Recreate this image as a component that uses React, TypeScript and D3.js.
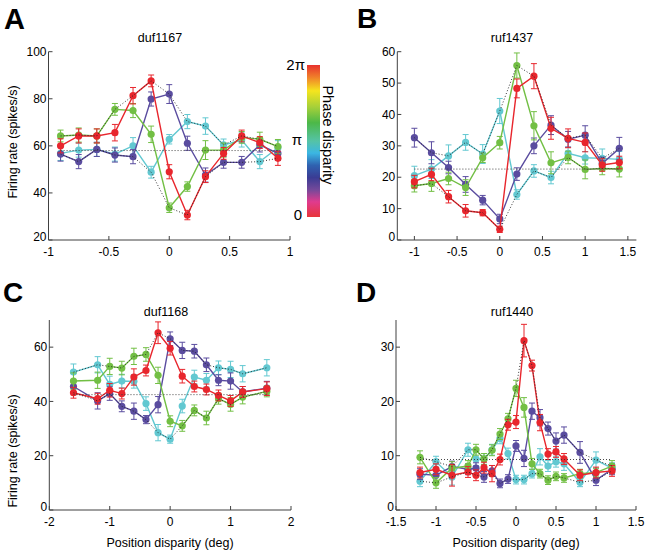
import * as d3 from 'd3';

// ---- panel A: duf1167 ----
const xA = [-0.9, -0.75, -0.6, -0.45, -0.3, -0.15, 0, 0.15, 0.3, 0.45, 0.6, 0.75, 0.9];
const redA = [60, 64.2, 64.2, 65.6, 81.3, 87.6, 49, 30.6, 46.9, 56.8, 64.2, 61.4, 54.7];
const greenA = [64.2, 64.6, 64.2, 75.5, 75, 64.9, 33.7, 42.7, 58.2, 58.2, 63.6, 62.8, 59.7];
const cyanA = [56.8, 58.2, 58.5, 56.5, 60, 48.8, 62.8, 70.3, 68.4, 60.4, 62.5, 53.3, 59.2];
const purpleA = [56.5, 53.3, 58.5, 56.1, 55.4, 79.9, 82, 61.1, 47.6, 53, 53, 60.4, 56.8];
const redErrA = [3, 3, 3, 3.5, 3.5, 2.5, 3, 2, 2.5, 2.5, 2.5, 2.5, 3];
const greenErrA = [2.5, 3, 3, 2.5, 3, 3.5, 2, 2, 4, 3, 2.5, 3, 3];
const cyanErrA = [3, 3, 3, 3, 3.5, 2.5, 2, 3, 3.5, 2.5, 3, 3, 3];
const purpleErrA = [3, 3, 3, 3, 3, 3, 4, 3, 3, 2.5, 2.5, 3, 3];
const baseA = 58;

// ---- panel B: ruf1437 ----
const xB = [-1, -0.8, -0.6, -0.4, -0.2, 0, 0.2, 0.4, 0.6, 0.8, 1, 1.2, 1.4];
const redB = [18.6, 20.9, 13.8, 9.3, 8.7, 3.4, 48.3, 52.2, 35.6, 32.4, 31.1, 23.9, 24.7];
const greenB = [17.3, 18, 19.6, 16.7, 26.2, 31, 55.6, 36.4, 24.6, 26.3, 22.5, 22.8, 22.6];
const cyanB = [20.5, 22.6, 26.8, 31.1, 27.4, 41.1, 14.5, 22, 19.9, 27.6, 26.2, 26, 25.7];
const purpleB = [32.6, 27.8, 23.1, 17.7, 12.7, 6.7, 21, 30, 36.6, 32.1, 33.4, 24.4, 29.2];
const redErrB = [2, 2, 2, 2, 1, 1, 3, 4, 3.5, 3, 3, 2, 2];
const greenErrB = [2, 2.5, 2, 2.5, 1.5, 2, 4, 4.5, 3.5, 2, 3, 2, 2.5];
const cyanErrB = [3, 3, 3.5, 2.5, 3, 4, 1.5, 2, 2, 2, 2, 3, 2.5];
const purpleErrB = [3, 3.5, 2, 2.5, 1.5, 1.5, 2, 2.5, 3, 2.5, 3, 2, 3.5];
const baseB = 22.6;

// ---- panel C: duf1168 ----
const xC = [-1.6, -1.2, -1, -0.8, -0.6, -0.4, -0.2, 0, 0.2, 0.4, 0.6, 0.8, 1, 1.2, 1.6];
const redC = [43.2, 41, 44.1, 42.9, 49, 51.4, 65.3, 59.6, 49.3, 45.5, 44.4, 42.2, 40.2, 43.5, 44.7];
const greenC = [47.5, 47.8, 52.9, 52.3, 56.6, 57.3, 49.6, 32.7, 31, 36.7, 33.9, 41, 38.9, 41.6, 43.7];
const cyanC = [50.8, 53.5, 46.3, 47.5, 47.4, 39.2, 28.5, 26.1, 38.3, 49, 47.8, 52.4, 51.8, 50.2, 52.4];
const purpleC = [45.5, 40.2, 42.9, 38.2, 36.4, 33.3, 38.8, 63.1, 58.8, 58.5, 53.5, 47.8, 47.5, 43.5, 44.9];
const redErrC = [2, 2, 2.5, 2, 3, 2, 4, 2.5, 2.5, 2, 2, 2, 2, 2, 2.5];
const greenErrC = [3, 3, 3, 2.5, 3, 2.5, 3, 2, 2, 2, 2.5, 2, 2.5, 2.5, 2];
const cyanErrC = [3, 3, 3, 2.5, 2.5, 2.5, 3, 1.5, 2.5, 2.5, 2.5, 2.5, 3, 3, 3];
const purpleErrC = [2, 3, 2.5, 2, 3, 1.5, 3, 2.5, 3, 2.5, 2.5, 2, 3, 2, 2.5];
const baseC = 42.5;

// ---- panel D: ruf1440 ----
const xD = [-1.2, -1, -0.8, -0.6, -0.5, -0.4, -0.3, -0.2, -0.1, 0, 0.1, 0.2, 0.3, 0.4, 0.5, 0.6, 0.8, 1, 1.2];
const redD = [6.9, 7.5, 6.4, 7, 6.4, 7.8, 6.7, 9.3, 15.7, 16.2, 31.2, 26.6, 16.1, 10.3, 10.7, 9.4, 6.4, 6.9, 7.2];
const greenD = [9.7, 5, 7.7, 8.1, 11.1, 9.4, 11, 14, 16.8, 22.4, 18.9, 8.5, 6.7, 5.5, 6.2, 5.9, 6.7, 6.9, 8.1];
const cyanD = [5.3, 8.9, 6.1, 11.1, 9.4, 9.4, 11.1, 13.2, 10.4, 5.6, 5.6, 6.7, 9.8, 8.1, 8.9, 8.5, 5.1, 9.2, 7.7];
const purpleD = [6.6, 6.4, 8, 7.5, 7.7, 6.1, 7.2, 4.9, 5.7, 11.8, 9.5, 18.2, 17, 15, 12.7, 13.8, 10.6, 5.5, 7.5];
const redErrD = [1, 1, 2, 1, 1, 1, 1.5, 1, 1, 1.2, 3, 1, 1.5, 1, 1, 1, 1, 1, 1];
const greenErrD = [1.2, 1, 1.2, 1, 1, 1, 1, 1, 1, 1.5, 1.8, 1, 0.8, 0.8, 0.8, 0.8, 0.8, 0.8, 1];
const cyanErrD = [1, 1, 1.5, 1.2, 1.2, 1, 1, 1, 1, 0.8, 0.8, 0.8, 1.5, 1, 1, 1.2, 0.8, 1.5, 1];
const purpleErrD = [1, 1, 1, 1, 1, 1, 1, 0.8, 0.8, 1, 1.5, 1.5, 1.5, 1.2, 1.5, 1.5, 2, 1, 1];
const baseD = 9.3;

const RED = '#e8262d';
const GREEN = '#72bf44';
const CYAN = '#62c8d1';
const PURPLE = '#5a4c9f';
const FONT = '"Liberation Sans", Arial, Helvetica, sans-serif';

interface Series { color: string; y: number[]; err: number[] }

interface PanelProps {
  x: number[];
  series: Series[];
  base: number;
  xDomain: [number, number];
  yDomain: [number, number];
  xRange: [number, number];
  yRange: [number, number];
  xTicks: number[];
  yTicks: number[];
  title: string;
  titleX: number;
  titleY: number;
}

function Panel({ x, series, base, xDomain, yDomain, xRange, yRange, xTicks, yTicks, title, titleX, titleY }: PanelProps) {
  const xs = d3.scaleLinear().domain(xDomain).range(xRange);
  const ys = d3.scaleLinear().domain(yDomain).range(yRange);
  const line = d3.line<number>().x((_, i) => xs(x[i])).y(d => ys(d));

  // dotted envelopes (max / min over phases)
  const maxEnv = x.map((_, i) => d3.max(series, s => s.y[i]) as number);
  const minEnv = x.map((_, i) => d3.min(series, s => s.y[i]) as number);
  const axisColor = '#404040';

  return (
    <g>
      <text x={titleX} y={titleY} textAnchor="middle" fontSize={12.5} fontFamily={FONT}>{title}</text>
      {series.map((s, k) => (
        <g key={k}>
          <path d={line(s.y) ?? ''} fill="none" stroke={s.color} strokeWidth={1.4} />
          {s.y.map((v, i) => {
            const cx = xs(x[i]);
            const y1 = ys(v - s.err[i]);
            const y2 = ys(v + s.err[i]);
            return (
              <g key={i} stroke={s.color} strokeWidth={1}>
                <line x1={cx} x2={cx} y1={y1} y2={y2} />
                <line x1={cx - 3} x2={cx + 3} y1={y1} y2={y1} />
                <line x1={cx - 3} x2={cx + 3} y1={y2} y2={y2} />
                <circle cx={cx} cy={ys(v)} r={3.6} fill={s.color} stroke="none" />
              </g>
            );
          })}
        </g>
      ))}
      <path d={line(maxEnv) ?? ''} fill="none" stroke="#222" strokeWidth={0.9} strokeDasharray="1,2" />
      <path d={line(minEnv) ?? ''} fill="none" stroke="#222" strokeWidth={0.9} strokeDasharray="1,2" />
      <line x1={xs(x[0])} x2={xs(x[x.length - 1])} y1={ys(base)} y2={ys(base)} stroke="#333" strokeWidth={0.9} strokeDasharray="1,2" />
      {/* axes */}
      <line x1={xRange[0]} x2={xRange[0]} y1={yRange[0]} y2={yRange[1]} stroke={axisColor} />
      <line x1={xRange[0]} x2={xRange[1]} y1={yRange[0]} y2={yRange[0]} stroke={axisColor} />
      {yTicks.map((t, i) => (
        <g key={'y' + t}>
          <line x1={xRange[0]} x2={xRange[0] + 4} y1={ys(t)} y2={ys(t)} stroke={axisColor} />
          <text x={xRange[0] - 2} y={ys(t) - (i === 0 ? 3 : 0)} dy="0.35em" textAnchor="end" fontSize={12} fontFamily={FONT}>{t}</text>
        </g>
      ))}
      {xTicks.map(t => (
        <g key={'x' + t}>
          <line x1={xs(t)} x2={xs(t)} y1={yRange[0]} y2={yRange[0] - 4} stroke={axisColor} />
          <text x={xs(t)} y={yRange[0] + 16} textAnchor="middle" fontSize={12} fontFamily={FONT}>{t}</text>
        </g>
      ))}
    </g>
  );
}

const phaseStops = [
  { o: 0, c: '#e8322e' }, { o: 0.08, c: '#f07f2a' }, { o: 0.17, c: '#f5e51e' },
  { o: 0.28, c: '#a3cf3a' }, { o: 0.38, c: '#4cb848' }, { o: 0.5, c: '#55c3a6' },
  { o: 0.58, c: '#3bb6e3' }, { o: 0.66, c: '#2f62b0' }, { o: 0.74, c: '#3a3c94' },
  { o: 0.82, c: '#74499a' }, { o: 0.9, c: '#e03b8e' }, { o: 1, c: '#e8353a' },
];

export default function App() {
  const mk = (r: number[], g: number[], c: number[], p: number[], re: number[], ge: number[], ce: number[], pe: number[]): Series[] => [
    { color: CYAN, y: c, err: ce },
    { color: PURPLE, y: p, err: pe },
    { color: GREEN, y: g, err: ge },
    { color: RED, y: r, err: re },
  ];
  return (
    <svg width={649} height={555} style={{ position: 'absolute', left: 0, top: 0, background: '#fff' }}>
      <defs>
        <linearGradient id="phase" x1="0" y1="0" x2="0" y2="1">
          {phaseStops.map(s => <stop key={s.o} offset={s.o} stopColor={s.c} />)}
        </linearGradient>
      </defs>
      <Panel x={xA} series={mk(redA, greenA, cyanA, purpleA, redErrA, greenErrA, cyanErrA, purpleErrA)} base={baseA}
        xDomain={[-1, 1]} yDomain={[20, 100]} xRange={[48.5, 290]} yRange={[240, 51.7]}
        xTicks={[-1, -0.5, 0, 0.5, 1]} yTicks={[20, 40, 60, 80, 100]} title="duf1167" titleX={160} titleY={42} />
      <Panel x={xB} series={mk(redB, greenB, cyanB, purpleB, redErrB, greenErrB, cyanErrB, purpleErrB)} base={baseB}
        xDomain={[-1.2, 1.6]} yDomain={[0, 60]} xRange={[397.3, 636.4]} yRange={[240, 51.7]}
        xTicks={[-1, -0.5, 0, 0.5, 1, 1.5]} yTicks={[0, 10, 20, 30, 40, 50, 60]} title="ruf1437" titleX={512} titleY={42} />
      <Panel x={xC} series={mk(redC, greenC, cyanC, purpleC, redErrC, greenErrC, cyanErrC, purpleErrC)} base={baseC}
        xDomain={[-2, 2]} yDomain={[0, 70]} xRange={[49.3, 291]} yRange={[510, 320]}
        xTicks={[-2, -1, 0, 1, 2]} yTicks={[0, 20, 40, 60]} title="duf1168" titleX={166} titleY={316} />
      <Panel x={xD} series={mk(redD, greenD, cyanD, purpleD, redErrD, greenErrD, cyanErrD, purpleErrD)} base={baseD}
        xDomain={[-1.5, 1.5]} yDomain={[0, 35]} xRange={[396, 636]} yRange={[510, 320]}
        xTicks={[-1.5, -1, -0.5, 0, 0.5, 1, 1.5]} yTicks={[0, 10, 20, 30]} title="ruf1440" titleX={512} titleY={316} />

      {/* axis labels */}
      <text transform="translate(17,142) rotate(-90)" textAnchor="middle" fontSize={12.5} fontFamily={FONT}>Firing rate (spikes/s)</text>
      <text transform="translate(17,451) rotate(-90)" textAnchor="middle" fontSize={12.5} fontFamily={FONT}>Firing rate (spikes/s)</text>
      <text x={170} y={547} textAnchor="middle" fontSize={12.5} fontFamily={FONT}>Position disparity (deg)</text>
      <text x={516} y={547} textAnchor="middle" fontSize={12.5} fontFamily={FONT}>Position disparity (deg)</text>

      {/* panel letters */}
      <text x={4} y={29} fontSize={29} fontWeight="bold" fontFamily={FONT}>A</text>
      <text x={357} y={28} fontSize={28} fontWeight="bold" fontFamily={FONT}>B</text>
      <text x={3} y={302} fontSize={28} fontWeight="bold" fontFamily={FONT}>C</text>
      <text x={356} y={302} fontSize={28} fontWeight="bold" fontFamily={FONT}>D</text>

      {/* colour bar */}
      <rect x={307} y={65} width={13} height={152} fill="url(#phase)" />
      <text x={305} y={70} textAnchor="end" fontSize={15} fontFamily={FONT}>2π</text>
      <text x={302} y={145} textAnchor="end" fontSize={15} fontFamily={FONT}>π</text>
      <text x={302} y={220} textAnchor="end" fontSize={15} fontFamily={FONT}>0</text>
      <text transform="translate(323,135) rotate(90)" textAnchor="middle" fontSize={14.5} fontFamily={FONT}>Phase disparity</text>
    </svg>
  );
}
